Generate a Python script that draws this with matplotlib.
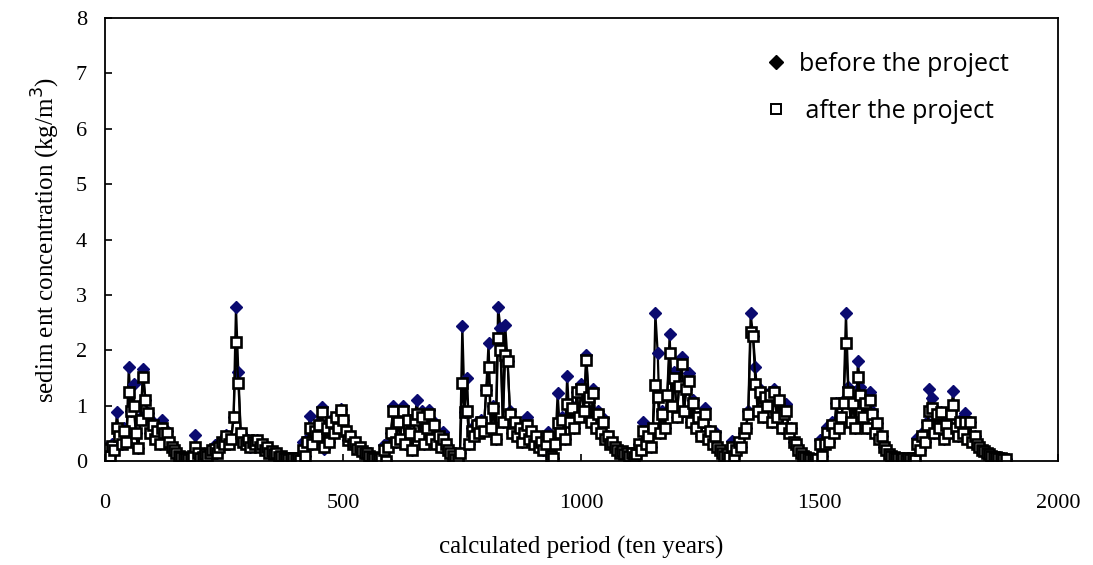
import numpy as np
import matplotlib
matplotlib.use("Agg")
import matplotlib.pyplot as plt
from matplotlib.lines import Line2D

# calculated period, every 5 steps (ten years)
period = np.arange(0, 1895, 5)

# sediment concentration before the project (kg/m3)
before = [
    0.15, 0.25, 0.10, 0.30, 0.20, 0.88, 0.45, 0.30, 0.60, 0.35, 1.70, 0.90, 1.39, 0.50, 0.23, 0.80, 1.66, 1.10, 0.86, 0.50,
    0.70, 0.40, 0.60, 0.30, 0.74, 0.50, 0.55, 0.35, 0.25, 0.20, 0.15, 0.10, 0.08, 0.05, 0.05, 0.04, 0.05, 0.10, 0.47, 0.15,
    0.05, 0.08, 0.12, 0.10, 0.15, 0.20, 0.29, 0.15, 0.25, 0.35, 0.30, 0.47, 0.30, 0.40, 0.80, 2.78, 1.60, 0.50, 0.35, 0.30,
    0.38, 0.25, 0.35, 0.30, 0.38, 0.25, 0.30, 0.20, 0.25, 0.15, 0.18, 0.12, 0.14, 0.08, 0.10, 0.06, 0.05, 0.04, 0.06, 0.05,
    0.04, 0.05, 0.03, 0.34, 0.10, 0.40, 0.81, 0.30, 0.60, 0.45, 0.70, 0.97, 0.21, 0.60, 0.35, 0.75, 0.50, 0.80, 0.60, 0.94,
    0.75, 0.55, 0.38, 0.45, 0.30, 0.35, 0.22, 0.25, 0.18, 0.15, 0.14, 0.10, 0.08, 0.06, 0.05, 0.04, 0.05, 0.29, 0.02, 0.30,
    0.50, 0.99, 0.35, 0.70, 0.40, 0.99, 0.30, 0.75, 0.50, 0.20, 0.80, 1.10, 0.45, 0.90, 0.30, 0.60, 0.92, 0.40, 0.70, 0.30,
    0.45, 0.25, 0.52, 0.30, 0.20, 0.15, 0.10, 0.04, 0.02, 0.15, 2.44, 0.88, 1.50, 0.30, 0.60, 0.45, 0.70, 0.50, 0.75, 0.55,
    1.28, 2.13, 0.60, 1.00, 0.40, 2.78, 2.40, 0.70, 2.45, 1.80, 0.90, 0.50, 0.70, 0.45, 0.60, 0.35, 0.50, 0.80, 0.40, 0.55,
    0.30, 0.45, 0.25, 0.35, 0.20, 0.30, 0.52, 0.10, 0.05, 0.30, 1.23, 0.50, 0.80, 0.40, 1.53, 0.70, 1.00, 0.60, 1.25, 0.80,
    1.40, 0.90, 1.91, 1.20, 0.70, 1.30, 0.60, 0.90, 0.50, 0.78, 0.40, 0.45, 0.30, 0.35, 0.25, 0.20, 0.15, 0.18, 0.12, 0.15,
    0.10, 0.15, 0.08, 0.12, 0.30, 0.20, 0.70, 0.30, 0.45, 0.25, 0.60, 2.67, 1.95, 0.50, 0.90, 0.60, 1.20, 2.29, 1.00, 1.60,
    0.80, 1.40, 1.88, 0.90, 1.30, 1.59, 0.70, 1.10, 0.60, 0.80, 0.45, 0.70, 0.96, 0.40, 0.55, 0.30, 0.52, 0.25, 0.20, 0.15,
    0.10, 0.12, 0.08, 0.36, 0.10, 0.20, 0.35, 0.25, 0.50, 0.60, 0.90, 2.67, 2.26, 1.70, 0.90, 1.30, 0.80, 1.20, 1.00, 1.25,
    0.70, 1.30, 0.80, 1.10, 0.60, 0.90, 1.03, 0.50, 0.60, 0.35, 0.30, 0.20, 0.15, 0.10, 0.08, 0.05, 0.04, 0.03, 0.04, 0.03,
    0.38, 0.10, 0.30, 0.61, 0.35, 0.70, 0.50, 1.05, 0.60, 0.80, 1.10, 2.67, 1.34, 0.70, 1.10, 0.60, 1.81, 1.34, 0.80, 1.10,
    0.60, 1.25, 0.90, 0.50, 0.68, 0.40, 0.45, 0.25, 0.20, 0.12, 0.10, 0.08, 0.06, 0.05, 0.04, 0.05, 0.02, 0.05, 0.04, 0.06,
    0.02, 0.42, 0.20, 0.50, 0.35, 0.70, 1.30, 1.13, 0.50, 0.90, 0.60, 0.88, 0.40, 0.70, 0.50, 0.90, 1.26, 0.60, 0.45, 0.75,
    0.50, 0.86, 0.40, 0.70, 0.35, 0.45, 0.30, 0.25, 0.20, 0.18, 0.15, 0.12, 0.10, 0.08, 0.07, 0.06, 0.05, 0.04, 0.03,
]

# sediment concentration after the project (kg/m3)
after = [
    0.15, 0.22, 0.10, 0.28, 0.20, 0.60, 0.45, 0.30, 0.55, 0.35, 1.25, 0.90, 1.00, 0.50, 0.23, 0.75, 1.51, 1.10, 0.86, 0.50,
    0.65, 0.40, 0.55, 0.30, 0.60, 0.50, 0.50, 0.35, 0.25, 0.20, 0.15, 0.10, 0.08, 0.05, 0.05, 0.04, 0.05, 0.10, 0.25, 0.15,
    0.05, 0.08, 0.12, 0.10, 0.15, 0.20, 0.22, 0.15, 0.25, 0.35, 0.30, 0.45, 0.30, 0.40, 0.80, 2.15, 1.41, 0.50, 0.35, 0.30,
    0.38, 0.25, 0.35, 0.30, 0.38, 0.25, 0.30, 0.20, 0.25, 0.15, 0.18, 0.12, 0.14, 0.08, 0.10, 0.06, 0.05, 0.04, 0.06, 0.05,
    0.04, 0.05, 0.02, 0.20, 0.10, 0.35, 0.60, 0.30, 0.55, 0.45, 0.65, 0.88, 0.25, 0.60, 0.35, 0.70, 0.50, 0.80, 0.60, 0.92,
    0.75, 0.55, 0.38, 0.45, 0.30, 0.35, 0.22, 0.25, 0.18, 0.15, 0.14, 0.10, 0.08, 0.06, 0.05, 0.04, 0.05, 0.20, 0.00, 0.25,
    0.50, 0.90, 0.35, 0.70, 0.40, 0.90, 0.30, 0.75, 0.50, 0.20, 0.75, 0.85, 0.45, 0.80, 0.30, 0.60, 0.85, 0.40, 0.65, 0.30,
    0.45, 0.25, 0.40, 0.30, 0.20, 0.15, 0.10, 0.04, 0.02, 0.15, 1.41, 0.88, 0.90, 0.30, 0.55, 0.45, 0.65, 0.50, 0.70, 0.55,
    1.28, 1.70, 0.60, 0.95, 0.40, 2.22, 2.00, 0.70, 1.91, 1.80, 0.85, 0.50, 0.70, 0.45, 0.60, 0.35, 0.50, 0.65, 0.40, 0.55,
    0.30, 0.45, 0.25, 0.35, 0.20, 0.30, 0.45, 0.10, 0.05, 0.30, 0.69, 0.50, 0.75, 0.40, 1.03, 0.70, 0.95, 0.60, 1.25, 0.80,
    1.30, 0.90, 1.82, 1.15, 0.70, 1.23, 0.60, 0.85, 0.50, 0.70, 0.40, 0.45, 0.30, 0.35, 0.25, 0.20, 0.15, 0.18, 0.12, 0.15,
    0.10, 0.15, 0.08, 0.12, 0.30, 0.20, 0.55, 0.30, 0.45, 0.25, 0.60, 1.37, 1.16, 0.50, 0.85, 0.60, 1.20, 1.95, 1.00, 1.50,
    0.80, 1.35, 1.75, 0.90, 1.30, 1.45, 0.70, 1.05, 0.60, 0.80, 0.45, 0.70, 0.85, 0.40, 0.55, 0.30, 0.45, 0.25, 0.20, 0.15,
    0.10, 0.12, 0.08, 0.25, 0.10, 0.20, 0.35, 0.25, 0.50, 0.60, 0.85, 2.33, 2.26, 1.40, 0.90, 1.25, 0.80, 1.15, 1.00, 1.20,
    0.70, 1.25, 0.80, 1.10, 0.60, 0.85, 0.90, 0.50, 0.60, 0.35, 0.30, 0.20, 0.15, 0.10, 0.08, 0.05, 0.04, 0.03, 0.04, 0.03,
    0.30, 0.10, 0.30, 0.50, 0.35, 0.65, 0.50, 1.05, 0.60, 0.80, 1.05, 2.13, 1.25, 0.70, 1.05, 0.60, 1.51, 1.20, 0.80, 1.05,
    0.60, 1.10, 0.85, 0.50, 0.68, 0.40, 0.45, 0.25, 0.20, 0.12, 0.10, 0.08, 0.06, 0.05, 0.04, 0.05, 0.02, 0.05, 0.04, 0.06,
    0.02, 0.30, 0.20, 0.45, 0.35, 0.65, 0.90, 0.95, 0.50, 0.85, 0.60, 0.88, 0.40, 0.65, 0.50, 0.85, 1.01, 0.60, 0.45, 0.70,
    0.50, 0.70, 0.40, 0.70, 0.35, 0.45, 0.30, 0.25, 0.20, 0.18, 0.15, 0.12, 0.10, 0.08, 0.07, 0.06, 0.05, 0.04, 0.03,
]

x_ticks = [0, 500, 1000, 1500, 2000]
y_ticks = [0, 1, 2, 3, 4, 5, 6, 7, 8]

serif = "Liberation Serif"

fig = plt.figure(figsize=(10.93, 5.65), dpi=100)
ax = fig.add_axes([0.096, 0.184, 0.872, 0.784])

ax.plot(period, before, color="black", linewidth=1.6, marker="D", markersize=6,
        markerfacecolor="#0a0a70", markeredgecolor="#0a0a70")
ax.plot(period, after, color="black", linewidth=1.6, marker="s", markersize=7,
        markerfacecolor="white", markeredgecolor="black", markeredgewidth=1.9)

ax.set_xlim(0, 2000)
ax.set_ylim(0, 8)
ax.set_xticks(x_ticks)
ax.set_yticks(y_ticks)
ax.tick_params(axis="both", direction="in", length=5, width=1.2, labelsize=16)
ax.tick_params(axis="x", pad=24)
ax.tick_params(axis="y", pad=13)
for lab in ax.get_xticklabels() + ax.get_yticklabels():
    lab.set_family(serif)
for sp in ax.spines.values():
    sp.set_linewidth(1.3)

ax.set_xlabel("calculated period (ten years)", family=serif, fontsize=18, labelpad=16)
ax.set_ylabel("sedim ent concentration (kg/m$^3$)", family=serif, fontsize=18, labelpad=10)

handles = [
    Line2D([], [], linestyle="none", marker="D", markersize=7, color="black"),
    Line2D([], [], linestyle="none", marker="s", markersize=7, markerfacecolor="white",
           markeredgecolor="black", markeredgewidth=1.4),
]
ax.legend(handles, ["before the project", " after the project"], loc="upper left",
          bbox_to_anchor=(0.67, 0.975), frameon=False, handlelength=0.8, handletextpad=0.5,
          labelspacing=0.9, prop={"family": "Open Sans", "size": 18})

fig.savefig("out.png", dpi=100)
